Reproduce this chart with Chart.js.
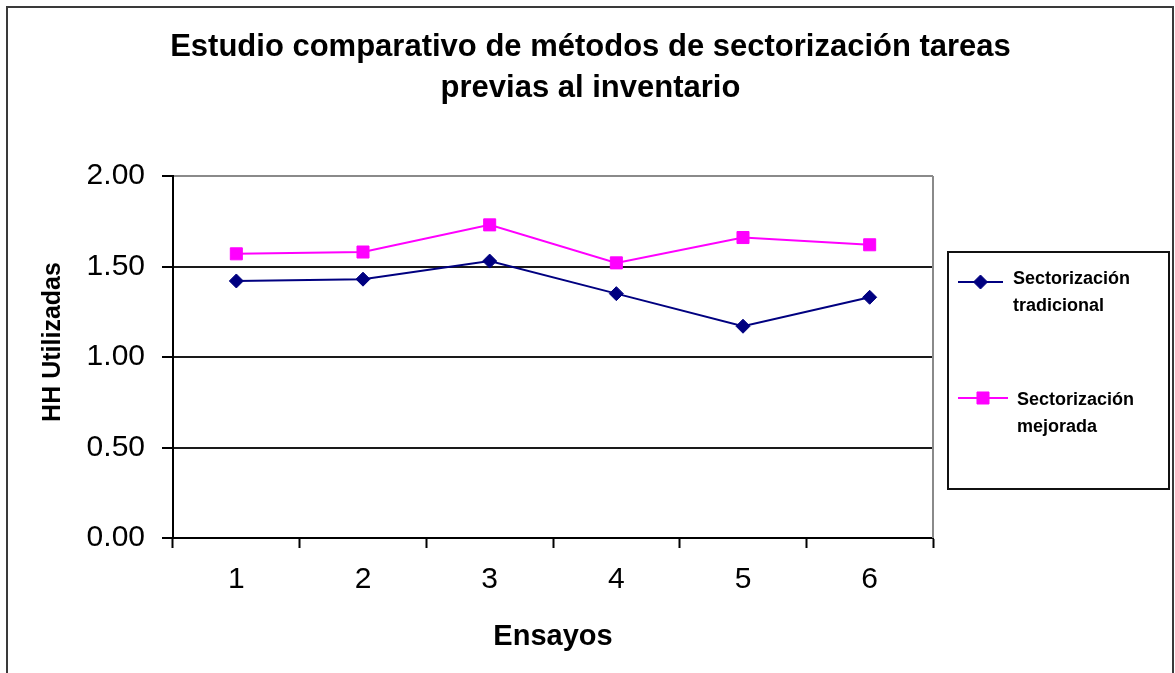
<!DOCTYPE html>
<html>
<head>
<meta charset="utf-8">
<script src="https://cdn.jsdelivr.net/npm/chart.js@4/dist/chart.umd.min.js"></script>
<style>
  html, body { margin: 0; padding: 0; background: #ffffff; }
  #wrap { width: 1175px; height: 673px; }
</style>
</head>
<body>
<div id="wrap"><canvas id="c" width="1175" height="673"></canvas></div>
<script>
// Ensayos (x categories) and hours used per method
const ensayos = ['1', '2', '3', '4', '5', '6'];
const tradicional = [1.42, 1.43, 1.53, 1.35, 1.17, 1.33];
const mejorada = [1.57, 1.58, 1.73, 1.52, 1.66, 1.62];
const yTicks = [0, 0.5, 1, 1.5, 2];

const titleLines = ['Estudio comparativo de métodos de sectorización tareas', 'previas al inventario'];
const yTitle = 'HH Utilizadas';
const xTitle = 'Ensayos';

const FONT = '"Liberation Sans", Arial, sans-serif';

// White page with the framed outline around the whole chart
const framePlugin = {
  id: 'frame',
  beforeDraw(chart) {
    const ctx = chart.ctx;
    ctx.save();
    ctx.fillStyle = '#ffffff';
    ctx.fillRect(0, 0, chart.width, chart.height);
    ctx.strokeStyle = '#3a3a3a';
    ctx.lineWidth = 2;
    ctx.strokeRect(7, 7, chart.width - 9, chart.height + 20);
    ctx.restore();
  },
  afterDatasetsDraw(chart) {
    // grey plot-area edge on the right
    const a = chart.chartArea, ctx = chart.ctx;
    ctx.save();
    ctx.strokeStyle = '#8a8a8a';
    ctx.lineWidth = 2;
    ctx.beginPath();
    ctx.moveTo(a.right, a.top);
    ctx.lineTo(a.right, a.bottom);
    ctx.stroke();
    ctx.restore();
  }
};

// Two-line chart heading, centred on the whole frame
const headingPlugin = {
  id: 'heading',
  afterDraw(chart) {
    const ctx = chart.ctx;
    ctx.save();
    ctx.font = 'bold 31px ' + FONT;
    ctx.fillStyle = '#000';
    ctx.textAlign = 'center';
    ctx.textBaseline = 'middle';
    titleLines.forEach((t, i) => ctx.fillText(t, chart.width / 2 + 3, 47 + i * 41));
    ctx.restore();
  }
};

// Rotated y-axis caption
const yCaptionPlugin = {
  id: 'yCaption',
  afterDraw(chart) {
    const a = chart.chartArea, ctx = chart.ctx;
    ctx.save();
    ctx.translate(53, (a.top + a.bottom) / 2 - 15);
    ctx.rotate(-Math.PI / 2);
    ctx.font = 'bold 25px ' + FONT;
    ctx.fillStyle = '#000';
    ctx.textAlign = 'center';
    ctx.textBaseline = 'middle';
    ctx.fillText(yTitle, 0, 0);
    ctx.restore();
  }
};

// Boxed legend to the right of the plot, two-line labels
const boxLegendPlugin = {
  id: 'boxLegend',
  afterDraw(chart, args, opts) {
    const a = chart.chartArea, ctx = chart.ctx;
    const left = a.right + 15, top = a.top + 76;
    const w = 221, h = 237;
    ctx.save();
    ctx.strokeStyle = '#111';
    ctx.lineWidth = 2;
    ctx.strokeRect(left, top, w, h);
    chart.data.datasets.forEach((ds, i) => {
      const e = opts.entries[i];
      const cy = top + e.dy;
      ctx.strokeStyle = ds.borderColor;
      ctx.lineWidth = ds.borderWidth;
      ctx.beginPath();
      ctx.moveTo(left + 10, cy);
      ctx.lineTo(left + e.lineEnd, cy);
      ctx.stroke();
      ctx.fillStyle = ds.pointBackgroundColor;
      ctx.strokeStyle = ds.pointBorderColor;
      ctx.lineWidth = ds.pointBorderWidth;
      Chart.helpers.drawPoint(ctx, { pointStyle: ds.pointStyle, radius: ds.pointRadius, borderWidth: ds.pointBorderWidth, rotation: 0 },
        left + 10 + (e.lineEnd - 10) / 2, cy);
      ctx.fillStyle = '#000';
      ctx.font = 'bold 18px ' + FONT;
      ctx.textAlign = 'left';
      ctx.textBaseline = 'middle';
      const sp = ds.label.indexOf(' ');
      const lines = [ds.label.slice(0, sp), ds.label.slice(sp + 1)];
      lines.forEach((t, k) => ctx.fillText(t, left + e.textX, cy + e.textDy + k * 27));
    });
    ctx.restore();
  }
};

new Chart(document.getElementById('c'), {
  type: 'line',
  data: {
    labels: ensayos,
    datasets: [
      {
        label: 'Sectorización tradicional',
        data: tradicional,
        borderColor: '#000080',
        backgroundColor: '#000080',
        borderWidth: 2,
        pointStyle: 'rectRot',
        pointRadius: 7,
        pointBackgroundColor: '#000080',
        pointBorderColor: '#000080',
        pointBorderWidth: 1,
        tension: 0
      },
      {
        label: 'Sectorización mejorada',
        data: mejorada,
        borderColor: '#ff00ff',
        backgroundColor: '#ff00ff',
        borderWidth: 2,
        pointStyle: 'rect',
        pointRadius: 8.5,
        pointBackgroundColor: '#ff00ff',
        pointBorderColor: '#ff00ff',
        pointBorderWidth: 1,
        tension: 0
      }
    ]
  },
  options: {
    responsive: false,
    animation: false,
    layout: { padding: { left: 0, right: 242, top: 176, bottom: 0 } },
    plugins: {
      legend: { display: false },
      tooltip: { enabled: false },
      title: { display: false },
      boxLegend: {
        entries: [
          { dy: 30, lineEnd: 55, textX: 65, textDy: -3 },
          { dy: 146, lineEnd: 60, textX: 69, textDy: 2 }
        ]
      }
    },
    scales: {
      x: {
        type: 'category',
        offset: true,
        afterFit(scale) { scale.height = 135; },
        grid: {
          offset: true,
          drawOnChartArea: false,
          drawTicks: true,
          tickLength: 10,
          tickColor: '#000',
          tickWidth: 2
        },
        border: { display: true, color: '#000', width: 2 },
        ticks: {
          color: '#000',
          padding: 14,
          font: { family: FONT, size: 30 }
        },
        title: {
          display: true,
          text: xTitle,
          color: '#000',
          font: { family: FONT, size: 29, weight: 'bold' },
          padding: { top: 0, bottom: 19 }
        }
      },
      y: {
        min: 0,
        max: 2,
        afterFit(scale) { scale.width = 173; },
        afterBuildTicks(scale) { scale.ticks = yTicks.map(v => ({ value: v })); },
        grid: {
          color: ctx => (ctx.tick && ctx.tick.value === 2) ? '#8a8a8a' : '#1a1a1a',
          lineWidth: 2,
          tickLength: 11,
          tickColor: '#000',
          tickWidth: 2
        },
        border: { display: true, color: '#000', width: 2 },
        ticks: {
          color: '#000',
          padding: 17,
          font: { family: FONT, size: 30 },
          callback: v => Number(v).toFixed(2)
        }
      }
    }
  },
  plugins: [framePlugin, headingPlugin, yCaptionPlugin, boxLegendPlugin]
});
</script>
</body>
</html>
